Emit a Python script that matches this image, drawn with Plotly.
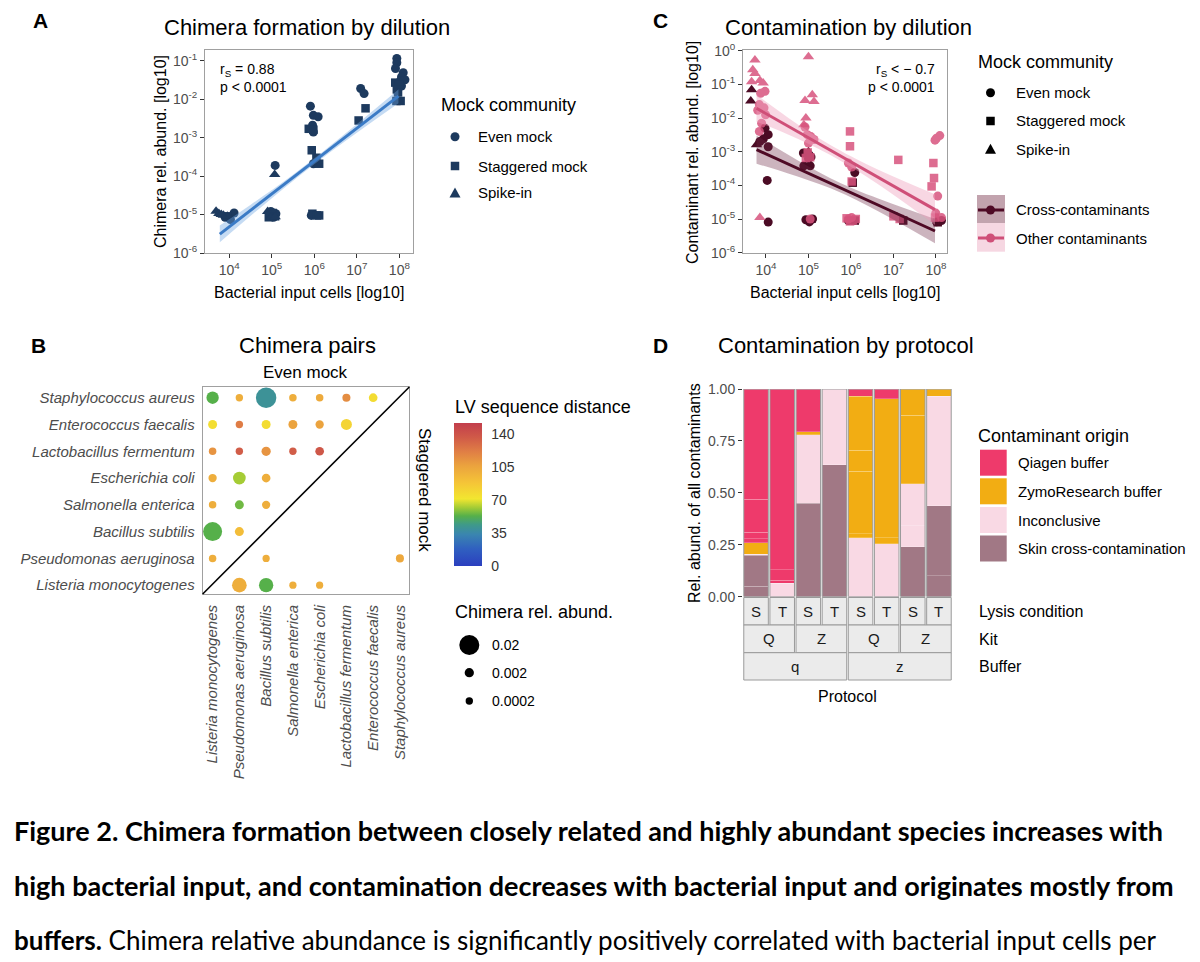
import numpy as np
import plotly.graph_objects as go

W, H = 1200, 962
OFF = 8  # the page body adds an 8px margin; layout coordinates below are page pixels
FONT = "Liberation Sans"

# ---------------- Panel A : chimera formation by dilution ----------------
a_even_x = [8.0e3, 1.07e4, 1.3e4, 1.0e4, 1.2e5, 1.25e5, 1.1e5, 9.5e4,
            8.1e5, 9.5e5, 1.23e6, 9.1e5, 9.5e5, 9.5e5, 9.5e5, 8.5e5,
            1.23e7, 1.48e7,
            8.7e7, 8.7e7, 8.1e7, 1.23e8, 1.12e8, 1.05e8, 1.35e8, 1.12e8]
a_even_y = [8.5e-6, 7.4e-6, 1.1e-5, 8.1e-6, 1.9e-4, 1.05e-5, 8.5e-6, 1.2e-5,
            6.6e-3, 3.8e-3, 3.5e-3, 2.1e-3, 1.4e-3, 2.1e-4, 1.0e-5, 9.5e-6,
            1.9e-2, 1.4e-2,
            0.115, 0.089, 0.063, 0.049, 0.038, 0.030, 0.032, 0.022]
a_stag_x = [9.0e3, 8.5e4, 1.05e5, 1.2e5, 7.4e5, 9.5e5, 8.7e5, 1.12e6, 1.3e6, 9.0e5,
            1.15e6, 1.3e6, 1.1e7, 1.6e7, 8.0e7, 9.7e7, 8.7e7, 9.3e7, 8.5e7, 1.07e8]
a_stag_y = [9.0e-6, 8.5e-6, 1.1e-5, 9.0e-6, 1.7e-3, 1.6e-3, 4.7e-4, 3.0e-4, 2.1e-4, 1.05e-5,
            9.5e-6, 9.5e-6, 2.8e-3, 5.8e-3, 2.7e-2, 2.4e-2, 1.8e-2, 1.5e-2, 9.0e-3, 9.0e-3]
a_spike_x = [4.9e3, 5.7e3, 7.3e3, 9.0e3, 6.5e3, 1.17e5, 8.0e4, 9.5e4, 1.2e5]
a_spike_y = [1.22e-5, 1.06e-5, 9.6e-6, 9.0e-6, 1.0e-5, 1.1e-4, 1.2e-5, 8.3e-6, 8.8e-6]
a_fit_x = [6.0e3, 3.2e4, 3.2e5, 3.2e6, 9.5e7]
a_fit_y = [3.1e-6, 1.3e-5, 9.1e-5, 6.6e-4, 1.2e-2]
a_fit_lo = [1.9e-6, 9.3e-6, 7.6e-5, 5.4e-4, 7.9e-3]
a_fit_hi = [5.2e-6, 1.8e-5, 1.1e-4, 8.1e-4, 1.8e-2]

# ---------------- Panel C : contamination by dilution ----------------
c_other_even_x = [9.5e3, 7.5e3, 7.0e3, 9.0e3, 6.4e3, 9.8e3, 7.9e3, 7.0e3, 9.4e4, 1.14e5, 1.35e5,
                  1.0e5, 8.3e4, 8.7e5, 1.04e6, 1.03e8, 1.23e8, 9.5e7, 1.1e8, 9.9e7, 1.35e8,
                  8.7e5, 1.04e6, 1.1e5]
c_other_even_y = [0.062, 0.054, 0.025, 0.020, 0.017, 0.0125, 7.0e-3, 4.0e-3, 3.2e-3, 2.8e-3, 2.3e-3,
                  1.8e-3, 5.4e-3, 4.6e-4, 3.5e-4, 2.5e-3, 3.0e-3, 2.2e-3, 4.8e-5, 1.5e-5, 1.1e-5,
                  1.0e-5, 1.1e-5, 1.0e-5]
c_other_stag_x = [9.5e5, 9.5e5, 1.04e6, 9.6e4, 8.7e4, 1.1e5, 1.3e7, 8.7e7, 9.0e7, 7.9e7, 1.0e7,
                  1.4e7, 7.9e5, 1.1e6, 1.3e6, 9.5e5, 9.5e7]
c_other_stag_y = [4.0e-3, 1.45e-3, 1.3e-4, 9.5e-4, 6.5e-4, 6.8e-4, 5.7e-4, 4.6e-4, 1.65e-4, 9.3e-5,
                  1.2e-5, 1.0e-5, 1.05e-5, 9.0e-6, 1.0e-5, 8.5e-6, 1.1e-5]
c_other_spike_x = [5.5e3, 4.9e3, 5.5e3, 4.6e3, 7.2e3, 8.6e3, 7.2e3, 1.0e5, 8.3e4, 1.23e5, 1.35e5, 8.7e4, 7.8e4]
c_other_spike_y = [0.53, 0.27, 0.21, 0.12, 0.13, 0.11, 1.1e-5, 0.66, 0.033, 0.049, 0.031, 0.010, 6.3e-3]
c_cross_even_x = [9.5e3, 1.13e4, 7.2e3, 8.7e3, 1.13e4, 1.07e4, 1.13e4, 7.6e4, 1.0e5, 1.15e5, 7.8e4,
                  1.1e5, 8.7e4, 1.05e5, 1.25e5, 1.23e6, 8.7e5, 1.35e8, 1.03e8]
c_cross_even_y = [5.0e-3, 3.2e-3, 2.0e-3, 2.4e-3, 1.4e-3, 1.4e-4, 8.1e-6, 9.1e-4, 6.3e-4, 7.0e-4, 3.8e-4,
                  3.8e-4, 9.5e-6, 8.2e-6, 1.0e-5, 2.4e-4, 9.0e-6, 9.0e-6, 8.3e-6]
c_cross_stag_x = [1.1e6, 1.7e7, 1.23e6, 1.1e8]
c_cross_stag_y = [1.2e-4, 9.0e-6, 9.0e-6, 8.0e-6]
c_cross_spike_x = [4.6e3, 4.4e3, 6.0e3, 1.0e5, 1.1e5]
c_cross_spike_y = [0.069, 0.032, 1.6e-3, 1.0e-3, 9.0e-6]
c_fit_x = [6.0e3, 3.2e4, 3.2e5, 3.2e6, 9.5e7]
c_other_fit = [1.95e-2, 5.9e-3, 1.14e-3, 2.2e-4, 1.9e-5]
c_other_lo = [7.8e-3, 3.3e-3, 8.1e-4, 1.4e-4, 6.8e-6]
c_other_hi = [4.9e-2, 1.06e-2, 1.6e-3, 3.5e-4, 5.4e-5]
c_cross_fit = [1.15e-3, 4.4e-4, 1.17e-4, 3.1e-5, 4.4e-6]
c_cross_lo = [4.4e-4, 2.3e-4, 8.3e-5, 2.1e-5, 1.9e-6]
c_cross_hi = [3.0e-3, 8.4e-4, 1.66e-4, 4.7e-5, 1.0e-5]

# ---------------- Panel B : chimera pairs ----------------
species = ["Listeria monocytogenes", "Pseudomonas aeruginosa", "Bacillus subtilis",
           "Salmonella enterica", "Escherichia coli", "Lactobacillus fermentum",
           "Enterococcus faecalis", "Staphylococcus aureus"]
b_row = [7, 7, 7, 7, 7, 7, 7, 6, 6, 6, 6, 6, 6, 5, 5, 5, 5, 5, 4, 4, 4, 3, 3, 3, 2, 2, 1,
         1, 1, 0, 0, 0, 0]
b_col = [0, 1, 2, 3, 4, 5, 6, 0, 1, 2, 3, 4, 5, 0, 1, 2, 3, 4, 0, 1, 2, 0, 1, 2, 0, 1, 0,
         2, 7, 1, 2, 3, 4]
b_lv = [53, 100, 40, 100, 102, 115, 76, 75, 122, 76, 106, 106, 80, 112, 135, 112, 135, 138,
        100, 62, 100, 100, 56, 100, 53, 92, 100,
        100, 103, 100, 53, 100, 100]
b_abund = [0.0058, 0.0002, 0.021, 0.0003, 0.0003, 0.0008, 0.0014,
           0.0017, 0.0002, 0.0017, 0.0017, 0.0010, 0.0040,
           0.0003, 0.0002, 0.0020, 0.0002, 0.0014,
           0.0010, 0.0063, 0.0014,
           0.0003, 0.0017, 0.0010,
           0.0178, 0.0017,
           0.0003,
           0.0001, 0.0008, 0.0094, 0.0088, 0.0001, 0.00005]
b_size_legend = [0.02, 0.002, 0.0002]
b_lv_ticks = [0, 35, 70, 105, 140]

# ---------------- Panel D : contamination by protocol ----------------
d_lysis = ["S", "T", "S", "T", "S", "T", "S", "T"]
d_kit = ["Q", "Q", "Z", "Z", "Q", "Q", "Z", "Z"]
d_buffer = ["q", "q", "q", "q", "z", "z", "z", "z"]
d_segments = [
    [("skin", 0.05), ("skin", 0.15), ("inc", 0.005), ("zymo", 0.055), ("qia", 0.02), ("qia", 0.03), ("qia", 0.16), ("qia", 0.53)],
    [("inc", 0.065), ("qia", 0.015), ("qia", 0.05), ("qia", 0.87)],
    [("skin", 0.45), ("inc", 0.33), ("zymo", 0.015), ("qia", 0.205)],
    [("skin", 0.635), ("inc", 0.365)],
    [("inc", 0.284), ("zymo", 0.02), ("zymo", 0.30), ("zymo", 0.10), ("zymo", 0.262), ("qia", 0.034)],
    [("inc", 0.254), ("zymo", 0.03), ("zymo", 0.668), ("qia", 0.048)],
    [("skin", 0.241), ("inc", 0.10), ("inc", 0.202), ("zymo", 0.33), ("zymo", 0.127)],
    [("skin", 0.10), ("skin", 0.337), ("inc", 0.529), ("zymo", 0.034)],
]
d_origin_names = {"qia": "Qiagen buffer", "zymo": "ZymoResearch buffer",
                  "inc": "Inconclusive", "skin": "Skin cross-contamination"}
d_origin_order = ["qia", "zymo", "inc", "skin"]

# ---------------- styles ----------------
A_COL = "#1d3a5e"
A_LINE = "#3b7bc6"
A_BAND = "rgba(110,165,225,0.40)"
C_OTHER = "#d8547e"
C_CROSS = "#4b0b24"
C_OTHER_LINE = "#cf4f78"
C_CROSS_LINE = "#4e0a25"
C_OTHER_BAND = "rgba(238,160,188,0.42)"
C_CROSS_BAND = "rgba(110,40,70,0.35)"
D_COL = {"qia": "#ee3a6b", "zymo": "#f2ad13", "inc": "#f9d9e4", "skin": "#a17885"}
LV_SCALE = [[0.00, "#2b3fbf"], [0.12, "#3060c0"], [0.22, "#3a85b0"], [0.29, "#3f9a88"],
            [0.35, "#56b04a"], [0.41, "#a5cc35"], [0.47, "#f2e630"], [0.58, "#f5c537"],
            [0.70, "#eba33e"], [0.80, "#e07e45"], [0.90, "#d05a48"], [1.00, "#c23e4c"]]
LV_MAX = 151.3


def bubble_d(v):
    return float(np.sqrt(51 + 17444 * v))


def fx(x):
    return (x - OFF) / W


def fy(y):
    return 1 - (y - OFF) / H


def dom_x(a, b):
    return [fx(a), fx(b)]


def dom_y(top, bottom):
    return [fy(bottom), fy(top)]


fig = go.Figure()

# ---- A traces
for xs, ys, sym, sz in [(a_even_x, a_even_y, "circle", 9), (a_stag_x, a_stag_y, "square", 8.5),
                        (a_spike_x, a_spike_y, "triangle-up", 10)]:
    fig.add_trace(go.Scatter(x=xs, y=ys, mode="markers", showlegend=False, xaxis="x", yaxis="y",
                             marker=dict(symbol=sym, size=sz, color=A_COL, line=dict(width=0))))
fig.add_trace(go.Scatter(x=a_fit_x, y=a_fit_hi, mode="lines", line=dict(width=0, shape="spline"),
                         showlegend=False, xaxis="x", yaxis="y", hoverinfo="skip"))
fig.add_trace(go.Scatter(x=a_fit_x, y=a_fit_lo, mode="lines", line=dict(width=0, shape="spline"),
                         fill="tonexty", fillcolor=A_BAND, showlegend=False, xaxis="x", yaxis="y",
                         hoverinfo="skip"))
fig.add_trace(go.Scatter(x=a_fit_x, y=a_fit_y, mode="lines", line=dict(color=A_LINE, width=3),
                         showlegend=False, xaxis="x", yaxis="y"))

# ---- C traces
c_groups = [
    (c_cross_even_x, c_cross_even_y, "circle", 9, C_CROSS, 1.0),
    (c_cross_stag_x, c_cross_stag_y, "square", 8.5, C_CROSS, 1.0),
    (c_cross_spike_x, c_cross_spike_y, "triangle-up", 10, C_CROSS, 1.0),
    (c_other_even_x, c_other_even_y, "circle", 9, C_OTHER, 0.85),
    (c_other_stag_x, c_other_stag_y, "square", 8.5, C_OTHER, 0.85),
    (c_other_spike_x, c_other_spike_y, "triangle-up", 10, C_OTHER, 0.85),
]
for xs, ys, sym, sz, col, op in c_groups:
    fig.add_trace(go.Scatter(x=xs, y=ys, mode="markers", showlegend=False, xaxis="x2", yaxis="y2",
                             opacity=op, marker=dict(symbol=sym, size=sz, color=col, line=dict(width=0))))
for fit, lo, hi, lc, bc in [(c_cross_fit, c_cross_lo, c_cross_hi, C_CROSS_LINE, C_CROSS_BAND),
                            (c_other_fit, c_other_lo, c_other_hi, C_OTHER_LINE, C_OTHER_BAND)]:
    fig.add_trace(go.Scatter(x=c_fit_x, y=hi, mode="lines", line=dict(width=0, shape="spline"),
                             showlegend=False, xaxis="x2", yaxis="y2", hoverinfo="skip"))
    fig.add_trace(go.Scatter(x=c_fit_x, y=lo, mode="lines", line=dict(width=0, shape="spline"),
                             fill="tonexty", fillcolor=bc, showlegend=False, xaxis="x2", yaxis="y2",
                             hoverinfo="skip"))
for fit, lc in [(c_cross_fit, C_CROSS_LINE), (c_other_fit, C_OTHER_LINE)]:
    fig.add_trace(go.Scatter(x=c_fit_x, y=fit, mode="lines", line=dict(color=lc, width=3),
                             showlegend=False, xaxis="x2", yaxis="y2"))

# ---- B traces
cb_top, cb_bot = 423.3, 566.7
fig.add_trace(go.Scatter(
    x=[species[i] for i in b_col], y=[species[i] for i in b_row], mode="markers",
    showlegend=False, xaxis="x3", yaxis="y3",
    marker=dict(size=[bubble_d(v) for v in b_abund], color=b_lv, colorscale=LV_SCALE,
                cmin=0, cmax=LV_MAX, line=dict(width=0), opacity=1,
                colorbar=dict(x=fx(454.3), xanchor="left", xpad=0, ypad=0,
                              y=fy((cb_top + cb_bot) / 2), yanchor="middle",
                              len=cb_bot - cb_top, lenmode="pixels",
                              thickness=28, thicknessmode="pixels", outlinewidth=0,
                              tickvals=b_lv_ticks, ticks="outside", ticklen=7, tickcolor="rgba(0,0,0,0)",
                              tickfont=dict(size=14, color="#333333", family=FONT)))))

# ---- D traces
for i, segs in enumerate(d_segments):
    for org, val in segs:
        fig.add_trace(go.Bar(x=[i], y=[val], width=0.94, showlegend=False, xaxis="x4", yaxis="y4",
                             marker=dict(color=D_COL[org],
                                         line=dict(color="rgba(255,255,255,0.28)", width=0.8)),
                             name=d_origin_names[org]))

# ---------------- axes ----------------
def pow_text(e):
    return "10<sup>%d</sup>" % e


base_axis = dict(showgrid=False, zeroline=False, showline=True, mirror=True, linecolor="#a0a0a0",
                 linewidth=1, ticks="outside", ticklen=4, tickwidth=1, tickcolor="#333333",
                 automargin=False,
                 tickfont=dict(size=14, color="#4d4d4d", family=FONT))
xticks = [10.0 ** e for e in range(4, 9)]
fig.update_layout(
    xaxis=dict(base_axis, domain=dom_x(205, 413), anchor="y", type="log", range=[3.43, 8.32],
               tickvals=xticks, ticktext=[pow_text(e) for e in range(4, 9)]),
    yaxis=dict(base_axis, domain=dom_y(50, 253), anchor="x", type="log", range=[-6.0, -0.72],
               tickvals=[10.0 ** e for e in range(-6, 0)], ticktext=[pow_text(e) for e in range(-6, 0)]),
    xaxis2=dict(base_axis, domain=dom_x(743, 947), anchor="y2", type="log", range=[3.46, 8.26],
                tickvals=xticks, ticktext=[pow_text(e) for e in range(4, 9)]),
    yaxis2=dict(base_axis, domain=dom_y(50, 253), anchor="x2", type="log", range=[-6.01, 0.02],
                tickvals=[10.0 ** e for e in range(-6, 1)], ticktext=[pow_text(e) for e in range(-6, 1)]),
    xaxis3=dict(base_axis, domain=dom_x(202.7, 409.3), anchor="y3", type="category",
                categoryorder="array", categoryarray=species, range=[-0.37, 7.35], ticks="",
                tickangle=-90, ticklabelstandoff=4,
                tickfont=dict(size=15, color="#4d4d4d", family=FONT, style="italic")),
    yaxis3=dict(base_axis, domain=dom_y(387, 594), anchor="x3", type="category",
                categoryorder="array", categoryarray=species, range=[-0.33, 7.4], ticks="",
                ticklabelstandoff=4,
                tickfont=dict(size=15, color="#4d4d4d", family=FONT, style="italic")),
    xaxis4=dict(domain=dom_x(743, 952), anchor="y4", range=[-0.5, 7.5], showticklabels=False,
                showgrid=False, zeroline=False, showline=False, ticks="", automargin=False),
    yaxis4=dict(domain=dom_y(389, 596.7), anchor="x4", range=[0, 1], showgrid=False, zeroline=False,
                showline=False, ticks="outside", ticklen=4, tickcolor="#333333", automargin=False,
                tickvals=[0, 0.25, 0.5, 0.75, 1.0], ticktext=["0.00", "0.25", "0.50", "0.75", "1.00"],
                tickfont=dict(size=14, color="#4d4d4d", family=FONT)),
    barmode="stack",
)

# ---------------- annotations & decorations ----------------
ann = []
shapes = []


def text(x, y, s, size, color="black", xanchor="left", yanchor="middle", angle=0, family=FONT):
    ann.append(dict(x=fx(x), y=fy(y), xref="paper", yref="paper", text=s, showarrow=False,
                    xanchor=xanchor, yanchor=yanchor, textangle=angle, borderpad=0,
                    font=dict(size=size, color=color, family=family)))


def key(kind, cx, cy, size, color):
    base = dict(xref="paper", yref="paper", xsizemode="pixel", ysizemode="pixel",
                xanchor=fx(cx), yanchor=fy(cy), fillcolor=color, line=dict(width=0), layer="above")
    r = size / 2
    if kind == "circle":
        shapes.append(dict(type="circle", x0=-r, x1=r, y0=-r, y1=r, **base))
    elif kind == "square":
        shapes.append(dict(type="rect", x0=-r, x1=r, y0=-r, y1=r, **base))
    else:
        shapes.append(dict(type="path", path="M %.1f,%.1f L %.1f,%.1f L 0,%.1f Z"
                           % (-r, -r * 0.8, r, -r * 0.8, r), **base))


def prect(x0, y0, x1, y1, fill, line=None):
    shapes.append(dict(type="rect", xref="paper", yref="paper", x0=fx(x0), x1=fx(x1),
                       y0=fy(y1), y1=fy(y0), fillcolor=fill,
                       line=dict(width=0) if line is None else line, layer="above"))


def pline(x0, y0, x1, y1, color, width):
    shapes.append(dict(type="line", xref="paper", yref="paper", x0=fx(x0), x1=fx(x1),
                       y0=fy(y0), y1=fy(y1), line=dict(color=color, width=width), layer="above"))


# panel letters & titles
for x, y, s in [(40, 21, "A"), (38, 345, "B"), (660, 21, "C"), (660, 345, "D")]:
    text(x, y, "<b>%s</b>" % s, 21, xanchor="center")
text(307, 27, "Chimera formation by dilution", 22, xanchor="center")
text(848, 27, "Contamination by dilution", 22, xanchor="center")
text(307, 345, "Chimera pairs", 22, xanchor="center")
text(846, 345, "Contamination by protocol", 22, xanchor="center")

# A labels
text(309, 292, "Bacterial input cells [log10]", 16, xanchor="center")
text(160, 152, "Chimera rel. abund. [log10]", 16, xanchor="center", angle=-90)
text(219, 70, "r<sub>S</sub> = 0.88", 14)
text(219, 87, "p &lt; 0.0001", 14)
text(440, 105, "Mock community", 18)
for cy, kind, sz, lab in [(136.7, "circle", 9, "Even mock"), (166, "square", 8.5, "Staggered mock"),
                          (193, "triangle", 11, "Spike-in")]:
    key(kind, 455, cy, sz, A_COL)
    text(477, cy, lab, 15)

# C labels
text(845, 292, "Bacterial input cells [log10]", 16, xanchor="center")
text(692, 152, "Contaminant rel. abund. [log10]", 16, xanchor="center", angle=-90)
text(936, 70, "r<sub>S</sub> &lt; \u2212 0.7", 14, xanchor="right")
text(936, 87, "p &lt; 0.0001", 14, xanchor="right")
text(977, 62, "Mock community", 18)
for cy, kind, sz, lab in [(92.7, "circle", 9, "Even mock"), (121, "square", 8.5, "Staggered mock"),
                          (149.3, "triangle", 11, "Spike-in")]:
    key(kind, 990.5, cy, sz, "black")
    text(1015, cy, lab, 15)
prect(977, 195, 1005, 223, "#c2a3ae")
prect(977, 223, 1005, 251.7, "#f6d7e2")
for cy, col, lab in [(210, C_CROSS_LINE, "Cross-contaminants"), (238, C_OTHER_LINE, "Other contaminants")]:
    pline(978, cy, 1004, cy, col, 3)
    key("circle", 990.5, cy, 9, col)
    text(1015, cy, lab, 15)

# B labels
text(305, 372, "Even mock", 17, xanchor="center")
text(425, 490, "Staggered mock", 17, xanchor="center", angle=90)
shapes.append(dict(type="line", xref="x3 domain", yref="y3 domain", x0=0, y0=0, x1=1, y1=1,
                   line=dict(color="black", width=1.6), layer="above"))
text(454, 407, "LV sequence distance", 18)
for v in b_lv_ticks:
    yy = cb_bot - v / LV_MAX * (cb_bot - cb_top)
    for xx0, xx1 in [(454.3, 459.5), (477.0, 482.3)]:
        pline(xx0, yy, xx1, yy, "white", 1)
text(454, 612, "Chimera rel. abund.", 18)
for cy, v in zip([645, 672.7, 701], b_size_legend):
    key("circle", 469.3, cy, bubble_d(v), "black")
    text(491, cy, ("%g" % v), 14)

# D labels, borders, strips, legend
text(694, 493, "Rel. abund. of all contaminants", 16, xanchor="center", angle=-90)
text(847, 696, "Protocol", 16, xanchor="center")
for i in range(len(d_lysis)):
    shapes.append(dict(type="rect", xref="x4", yref="y4", x0=i - 0.47, x1=i + 0.47, y0=0, y1=1,
                       line=dict(color="#9a9a9a", width=1), fillcolor="rgba(0,0,0,0)", layer="above"))


def strip_row(labels, group, top, bottom):
    n = len(labels)
    for s in range(0, n, group):
        i, j = s, s + group - 1
        shapes.append(dict(type="rect", xref="x4", yref="paper", x0=i - 0.47, x1=j + 0.47,
                           y0=fy(bottom), y1=fy(top), fillcolor="#ebebeb",
                           line=dict(color="#9a9a9a", width=1), layer="above"))
        ann.append(dict(x=(i + j) / 2, y=fy((top + bottom) / 2), xref="x4", yref="paper",
                        text=labels[i], showarrow=False, xanchor="center", yanchor="middle",
                        font=dict(size=15, color="#1a1a1a", family=FONT)))


strip_row(d_lysis, 1, 597.5, 625)
strip_row(d_kit, 2, 625, 652.7)
strip_row(d_buffer, 4, 652.7, 680)

text(977, 436, "Contaminant origin", 18)
for cy, org in zip([462.7, 491.3, 520, 548.5], d_origin_order):
    prect(980, cy - 13, 1006.7, cy + 13, D_COL[org])
    text(1017, cy, d_origin_names[org], 15)
text(978, 611.5, "Lysis condition", 16)
text(978, 639, "Kit", 16)
text(978, 666.5, "Buffer", 16)

# caption
CAP = "Lato"
text(13, 830, "<b>Figure 2. Chimera formation between closely related and highly abundant species increases with</b>",
     27, family=CAP)
text(13, 885, "<b>high bacterial input, and contamination decreases with bacterial input and originates mostly from</b>",
     27, family=CAP)
text(13, 940, "<b>buffers.</b> Chimera relative abundance is significantly positively correlated with bacterial input cells per",
     26, family=CAP)

fig.update_layout(
    width=W, height=H, margin=dict(l=0, r=0, t=0, b=0, pad=0, autoexpand=False),
    paper_bgcolor="white", plot_bgcolor="white",
    font=dict(family=FONT, color="black"),
    showlegend=False, annotations=ann, shapes=shapes,
)

fig.write_html("out.html")
